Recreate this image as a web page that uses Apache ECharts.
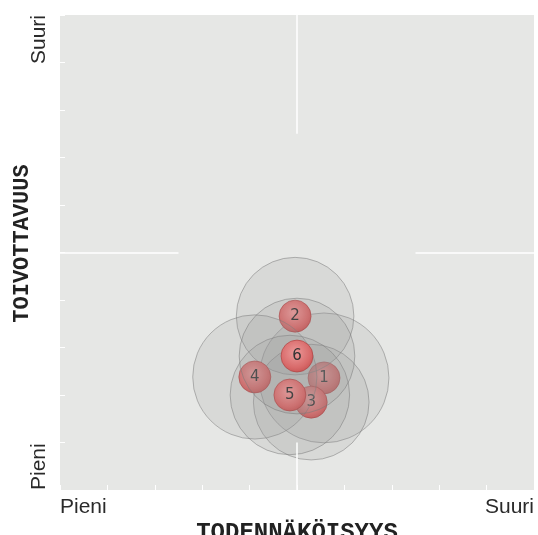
<!DOCTYPE html>
<html>
<head>
    <meta charset="UTF-8">
    <title></title>
    <script type="text/javascript" src="https://cdn.jsdelivr.net/npm/echarts@6/dist/echarts.min.js"></script>
    <style type="text/css">
        html, body { margin: 0; padding: 0; background: #fff; }
        #risk_chart { width: 538px; height: 535px; }
    </style>
</head>
<body>
<div id="risk_chart"></div>

<script type="text/javascript">
    // riskit: numero, todennäköisyys (x), toivottavuus (y), hajonta (ympyrän säde)
    var riskIds = ['1', '2', '3', '4', '5', '6'];
    var probability = [5.57, 4.96, 5.30, 4.11, 4.85, 5.00];
    var desirability = [2.36, 3.66, 1.85, 2.38, 2.00, 2.82];
    var spread = [1.37, 1.24, 1.22, 1.31, 1.26, 1.22];

    var axisEndLabels = ['Pieni', 'Suuri'];
    var axisMin = 0, axisMax = 10, axisStep = 1;
    var midValue = 5, midGap = 2.5, lowLineEnd = 1.0;

    var points = [];
    for (var i = 0; i < riskIds.length; i++) {
        points.push([probability[i], desirability[i], spread[i], riskIds[i]]);
    }

    function endLabel(v) {
        if (v === axisMin) return axisEndLabels[0];
        if (v === axisMax) return axisEndLabels[1];
        return '';
    }

    var labelFont = {
        fontFamily: 'Liberation Sans',
        fontSize: 21,
        color: '#2a2a2a'
    };

    var chart = echarts.init(document.getElementById('risk_chart'));
    chart.setOption({
        animation: false,
        grid: {
            left: 60, top: 15, width: 474, height: 475,
            outerBoundsMode: 'none', containLabel: false,
            show: true, backgroundColor: '#e6e7e5', borderWidth: 0
        },
        xAxis: {
            type: 'value', min: axisMin, max: axisMax, interval: axisStep,
            name: 'TODENNÄKÖISYYS', nameLocation: 'middle', nameGap: 31, nameMoveOverlap: false,
            nameTextStyle: { fontFamily: 'Liberation Mono', fontWeight: 'bold', fontSize: 24, color: '#222' },
            axisLine: { show: false },
            axisTick: { inside: true, length: 5, lineStyle: { color: '#ffffff', width: 1 } },
            splitLine: { show: false },
            axisLabel: Object.assign({
                margin: 7, formatter: endLabel,
                alignMinLabel: 'left', alignMaxLabel: 'right'
            }, labelFont)
        },
        yAxis: {
            type: 'value', min: axisMin, max: axisMax, interval: axisStep,
            name: 'TOIVOTTAVUUS', nameLocation: 'middle', nameGap: 27, nameRotate: 90, nameMoveOverlap: false,
            nameTextStyle: { fontFamily: 'Liberation Mono', fontWeight: 'bold', fontSize: 22, color: '#222', padding: [0, 0, 0, 18] },
            axisLine: { show: false },
            axisTick: { inside: true, length: 5, lineStyle: { color: '#ffffff', width: 1 } },
            splitLine: { show: false },
            axisLabel: Object.assign({
                margin: 10, rotate: 90, formatter: endLabel,
                alignMinLabel: 'left', alignMaxLabel: 'right'
            }, labelFont)
        },
        series: [
            {
                type: 'line', data: [], z: 1, silent: true,
                markLine: {
                    silent: true, symbol: 'none', label: { show: false },
                    lineStyle: { color: '#ffffff', width: 1.5, type: 'solid' },
                    data: [
                        [{ coord: [midValue, axisMax] }, { coord: [midValue, midValue + midGap] }],
                        [{ coord: [midValue, axisMin] }, { coord: [midValue, lowLineEnd] }],
                        [{ coord: [axisMin, midValue] }, { coord: [midValue - midGap, midValue] }],
                        [{ coord: [axisMax, midValue] }, { coord: [midValue + midGap, midValue] }]
                    ]
                }
            },
            {
                type: 'custom', z: 2,
                data: points,
                renderItem: function (params, api) {
                    var c = api.coord([api.value(0), api.value(1)]);
                    var r = api.size([api.value(2), api.value(2)]);
                    var ballR = 16;
                    return {
                        type: 'group',
                        children: [
                            {
                                type: 'circle',
                                shape: { cx: c[0], cy: c[1], r: r[0] },
                                style: {
                                    fill: 'rgba(150,150,150,0.17)',
                                    stroke: 'rgba(120,120,120,0.5)',
                                    lineWidth: 1
                                }
                            },
                            {
                                type: 'circle',
                                shape: { cx: c[0], cy: c[1], r: ballR },
                                style: {
                                    fill: new echarts.graphic.RadialGradient(0.45, 0.4, 0.65, [
                                        { offset: 0, color: '#ec9a9a' },
                                        { offset: 0.7, color: '#d86a6a' },
                                        { offset: 1, color: '#c45252' }
                                    ]),
                                    stroke: 'rgba(170,60,60,0.6)',
                                    lineWidth: 1
                                }
                            },
                            {
                                type: 'text',
                                style: {
                                    x: c[0], y: c[1],
                                    text: api.value(3),
                                    align: 'center', verticalAlign: 'middle',
                                    fontFamily: 'DejaVu Sans', fontSize: 15,
                                    fill: '#333'
                                }
                            }
                        ]
                    };
                }
            }
        ]
    });
</script>
</body>
</html>
